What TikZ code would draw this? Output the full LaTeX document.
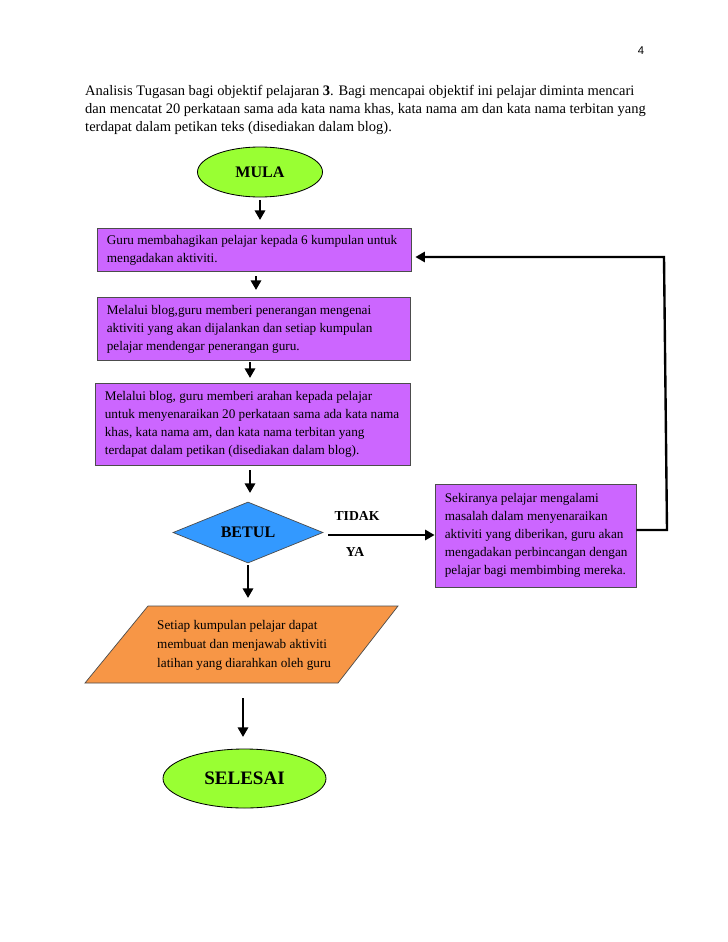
\documentclass[tikz,border=0pt]{standalone}
\usepackage{fontspec}
\setmainfont{Liberation Serif}
\newfontfamily\pgnumfont{Liberation Sans}
\usetikzlibrary{shapes.geometric,arrows.meta}
\definecolor{lgreen}{HTML}{99FF33}
\definecolor{lpurple}{HTML}{CC66FF}
\definecolor{lblue}{HTML}{3399FF}
\definecolor{lorange}{HTML}{F79646}
\def\px{0.8407pt}
\tikzset{
  procbox/.style={draw=black!70, line width=0.6pt, fill=lpurple, rectangle, inner sep=0pt},
  boxtext/.style={anchor=west, align=left, inner sep=0pt, font=\fontsize{11.1}{15.1}\selectfont},
  termnode/.style={draw=black, line width=0.7pt, fill=lgreen, ellipse, inner sep=0pt, font=\bfseries},
  flowarrow/.style={line width=2pt, -{Triangle[length=8pt,width=8.5pt]}},
  lbl/.style={font=\bfseries\fontsize{11.5}{13}\selectfont, inner sep=0pt}
}
\begin{document}
\begin{tikzpicture}[x=\px, y=-\px]
\useasboundingbox (0,0) rectangle (728,942);
\fill[white] (0,0) rectangle (728,942);

\node[font=\pgnumfont\fontsize{9.5}{11}\selectfont, inner sep=0pt] (pg) at (641,51) {4};

\node[anchor=west, align=left, inner sep=0pt, font=\fontsize{12.2}{15.1}\selectfont] (hdr) at (85,110)
 {Analisis Tugasan bagi objektif pelajaran \textbf{3}. Bagi mencapai objektif ini pelajar diminta mencari\\
  dan mencatat 20 perkataan sama ada kata nama khas, kata nama am dan kata nama terbitan yang\\
  terdapat dalam petikan teks (disediakan dalam blog).};

\node[termnode, minimum width=125*\px, minimum height=50*\px, font=\bfseries\fontsize{13.5}{15}\selectfont] (mula) at (260,172) {MULA};

\node[procbox, minimum width=314*\px, minimum height=43*\px] (b1) at (254,249.5) {};
\node[boxtext] (b1t) at ([xshift=10*\px, yshift=-1*\px]b1.west)
 {Guru membahagikan pelajar kepada 6 kumpulan untuk\\ mengadakan aktiviti.};

\node[procbox, minimum width=313*\px, minimum height=63*\px] (b2) at (253.5,328.5) {};
\node[boxtext] (b2t) at ([xshift=10*\px, yshift=-1*\px]b2.west)
 {Melalui blog,guru memberi penerangan mengenai\\ aktiviti yang akan dijalankan dan setiap kumpulan\\ pelajar mendengar penerangan guru.};

\node[procbox, minimum width=315*\px, minimum height=82*\px] (b3) at (252.5,424) {};
\node[boxtext] (b3t) at ([xshift=10*\px]b3.west)
 {Melalui blog, guru memberi arahan kepada pelajar\\ untuk menyenaraikan 20 perkataan sama ada kata nama\\ khas, kata nama am, dan kata nama terbitan yang\\ terdapat dalam petikan (disediakan dalam blog).};

\node[diamond, draw=black!70, line width=0.6pt, fill=lblue, minimum width=150*\px, minimum height=61*\px,
  aspect=2.46, inner sep=0pt, font=\bfseries\fontsize{13.5}{15}\selectfont] (dec) at (248,532.5) {BETUL};

\node[procbox, minimum width=201*\px, minimum height=103*\px] (b4) at (535.5,535.5) {};
\node[boxtext] (b4t) at ([xshift=10*\px]b4.west)
 {Sekiranya pelajar mengalami\\ masalah dalam menyenaraikan\\ aktiviti yang diberikan, guru akan\\ mengadakan perbincangan dengan\\ pelajar bagi membimbing mereka.};

\draw[draw=black!70, line width=0.6pt, fill=lorange] (148,606) -- (398,606) -- (338,683) -- (85,683) -- cycle;
\coordinate (parbot) at (243,683);
\node[align=left, inner sep=0pt, anchor=west, font=\fontsize{11.1}{16}\selectfont] (par) at (157,645)
 {Setiap kumpulan pelajar dapat\\ membuat dan menjawab aktiviti\\ latihan yang diarahkan oleh guru};

\node[termnode, minimum width=163*\px, minimum height=59*\px, font=\bfseries\fontsize{16}{18}\selectfont] (sel) at (244.5,778.5) {SELESAI};

% arrows
\draw[flowarrow] (mula.south) ++(0,3) -- (260,220);
\draw[flowarrow] (256,276) -- (256,290);
\draw[flowarrow] (250,362) -- (250,378);
\draw[flowarrow] (250,470) -- (250,493);
\draw[flowarrow] (dec.south) ++(0,2) -- (248,598);
\draw[flowarrow] (parbot) ++(0,15) -- (243,737);
\draw[flowarrow] (dec.east) ++(5,2.5) -- (b4.west |- 0,535);
\draw[flowarrow] (b4.east |- 0,530) -- (667,530) -- (664,257) -- ([xshift=4*\px]b1.east |- 0,257);

\node[lbl] (tidak) at (357,516) {TIDAK};
\node[lbl] (ya) at (355,552) {YA};
\end{tikzpicture}
\end{document}
